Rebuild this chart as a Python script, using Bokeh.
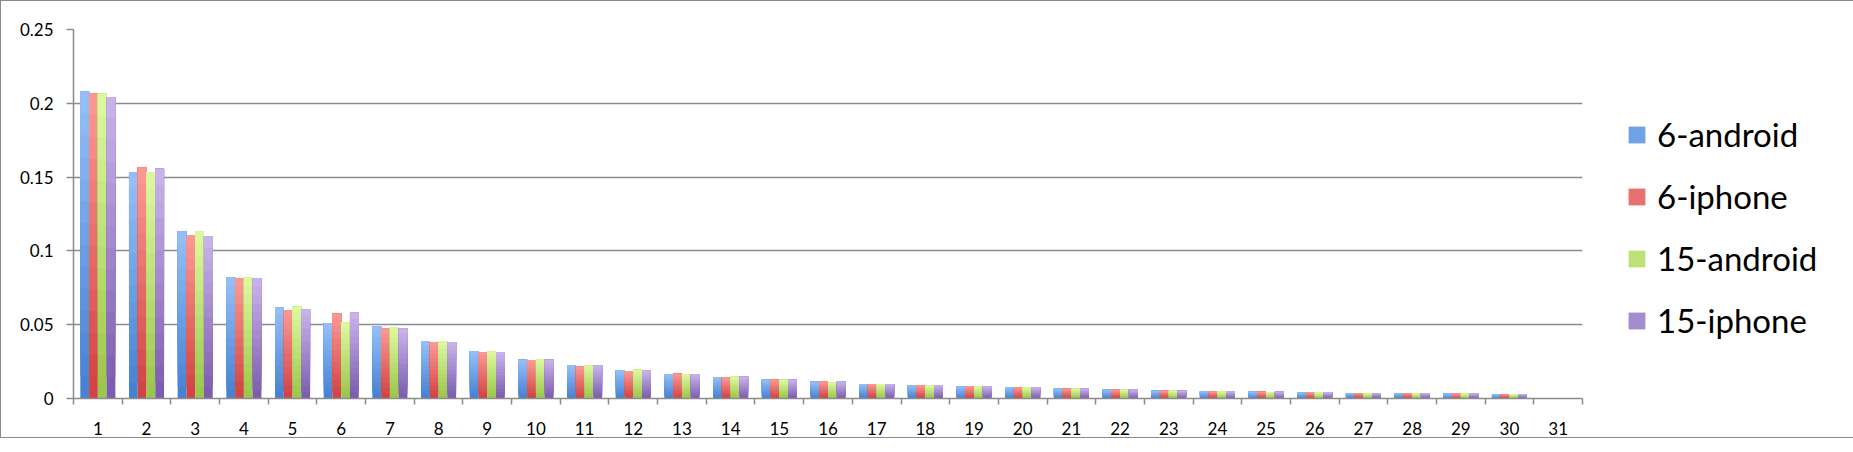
from bokeh.embed import file_html
from bokeh.models import (ColumnDataSource, CustomJSTickFormatter, FixedTicker,
                          Legend, LegendItem, Range1d)
from bokeh.plotting import figure
from bokeh.resources import INLINE

# share per rank
ranks = list(range(1, 32))
android_6 = [0.2080, 0.1533, 0.1131, 0.0824, 0.0617, 0.0510, 0.0488, 0.0390,
             0.0320, 0.0263, 0.0224, 0.0190, 0.0165, 0.0145, 0.0127, 0.0113,
             0.0099, 0.0088, 0.0081, 0.0075, 0.0066, 0.0059, 0.0052, 0.0047,
             0.0045, 0.0041, 0.0038, 0.0036, 0.0033, 0.0029, 0.0]
iphone_6 = [0.2066, 0.1565, 0.1107, 0.0815, 0.0598, 0.0574, 0.0474, 0.0381,
            0.0313, 0.0259, 0.0217, 0.0186, 0.0167, 0.0142, 0.0127, 0.0115,
            0.0099, 0.0088, 0.0081, 0.0075, 0.0066, 0.0059, 0.0052, 0.0047,
            0.0045, 0.0041, 0.0038, 0.0036, 0.0034, 0.0031, 0.0]
android_15 = [0.2064, 0.1533, 0.1131, 0.0824, 0.0623, 0.0517, 0.0483, 0.0390,
              0.0318, 0.0265, 0.0224, 0.0194, 0.0165, 0.0147, 0.0127, 0.0111,
              0.0098, 0.0088, 0.0081, 0.0074, 0.0066, 0.0059, 0.0052, 0.0047,
              0.0044, 0.0041, 0.0038, 0.0036, 0.0033, 0.0030, 0.0]
iphone_15 = [0.2043, 0.1556, 0.1100, 0.0815, 0.0605, 0.0583, 0.0474, 0.0383,
             0.0313, 0.0263, 0.0224, 0.0190, 0.0165, 0.0147, 0.0127, 0.0113,
             0.0099, 0.0089, 0.0081, 0.0075, 0.0066, 0.0059, 0.0052, 0.0048,
             0.0045, 0.0042, 0.0038, 0.0036, 0.0034, 0.0031, 0.0]
series_names = ["6-android", "6-iphone", "15-android", "15-iphone"]
y_ticks = [0, 0.05, 0.1, 0.15, 0.2, 0.25]

# top / bottom shades of the excel style gradient
shades = [("#93bef8", "#4682d2"), ("#fb9792", "#d24343"),
          ("#dcf89d", "#9bc74c"), ("#c7b2ea", "#7d5daf")]

FONT = "Lato"
GREY = "#8c8c8c"
N_SLICES = 14
BAR_W = 0.18


def mix(c1, c2, t):
    a = [int(c1[i:i + 2], 16) for i in (1, 3, 5)]
    b = [int(c2[i:i + 2], 16) for i in (1, 3, 5)]
    return "#%02x%02x%02x" % tuple(round(x + (y - x) * t) for x, y in zip(a, b))


p = figure(output_backend="svg", toolbar_location=None,
           frame_width=1509, frame_height=369,
           min_border_left=72, min_border_right=256,
           min_border_top=28, min_border_bottom=39,
           x_range=Range1d(0.5, 31.5), y_range=Range1d(0, 0.25),
           styles={"border": "1px solid #8a8a8a"})
p.outline_line_color = None
p.background_fill_color = "white"
p.border_fill_color = "white"

renderers = []
for k, (vals, (top, bottom)) in enumerate(
        zip([android_6, iphone_6, android_15, iphone_15], shades)):
    offset = (k - 1.5) * BAR_W
    xs, lo, hi, cols = [], [], [], []
    # overlapping slices, lowest first, fake the vertical gradient
    for s in range(N_SLICES):
        for r, v in zip(ranks, vals):
            xs.append(r + offset)
            lo.append(v * s / N_SLICES)
            hi.append(v)
            cols.append(mix(bottom, top, s / (N_SLICES - 1)))
    src = ColumnDataSource(dict(x=xs, bottom=lo, top=hi, color=cols))
    rend = p.vbar(x="x", bottom="bottom", top="top", width=BAR_W, source=src,
                  fill_color="color", line_color=None)
    renderers.append(rend)

items = [LegendItem(label=name, renderers=[r],
                    index=len(ranks) * (N_SLICES // 2))
         for name, r in zip(series_names, renderers)]
legend = Legend(items=items, location=(44, 58),
                glyph_width=21, glyph_height=21, label_height=40,
                label_standoff=10, spacing=22, padding=0, margin=0,
                border_line_color=None, background_fill_alpha=0,
                label_text_font=FONT, label_text_font_size="33px",
                label_text_color="black")
p.add_layout(legend, "right")

# axes
p.xaxis.ticker = FixedTicker(ticks=ranks,
                             minor_ticks=[r + 0.5 for r in range(0, 32)])
p.xaxis.major_tick_line_color = None
p.xaxis.major_tick_out = 0
p.xaxis.major_tick_in = 0
p.xaxis.minor_tick_out = 6
p.xaxis.minor_tick_in = 0
p.xaxis.minor_tick_line_color = GREY
p.xaxis.minor_tick_line_width = 1.5
p.xaxis.major_label_standoff = 17

p.yaxis.ticker = FixedTicker(ticks=y_ticks)
p.yaxis.formatter = CustomJSTickFormatter(code="return tick.toString()")
p.yaxis.major_tick_out = 7
p.yaxis.major_tick_in = 0
p.yaxis.minor_tick_line_color = None
p.yaxis.major_label_standoff = 13
p.yaxis.major_tick_line_color = GREY
p.yaxis.major_tick_line_width = 1.5

for ax in (p.xaxis, p.yaxis):
    ax.axis_line_color = GREY
    ax.axis_line_width = 1.5
    ax.major_label_text_font = FONT
    ax.major_label_text_font_size = "17px"
    ax.major_label_text_color = "black"

p.xgrid.visible = False
p.ygrid.ticker = FixedTicker(ticks=y_ticks)
p.ygrid.grid_line_color = GREY
p.ygrid.grid_line_width = 1.5

open("out.html", "w").write(file_html(p, INLINE))
